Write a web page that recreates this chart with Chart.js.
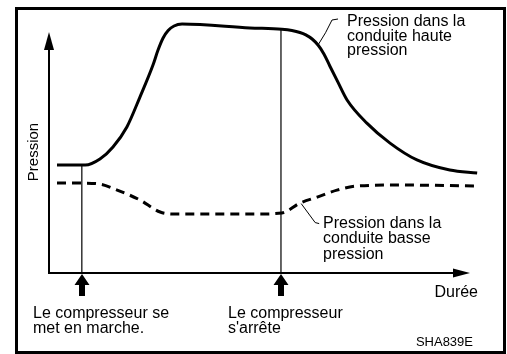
<!DOCTYPE html>
<html lang="fr">
<head>
<meta charset="utf-8">
<title>Pression dans les conduites</title>
<script src="https://cdn.jsdelivr.net/npm/chart.js@4.4.1/dist/chart.umd.min.js"></script>
<style>
  html, body { margin: 0; padding: 0; background: #fff; }
  #wrap { width: 507px; height: 354px; position: relative; }
</style>
</head>
<body>
<div id="wrap"><canvas id="c" width="507" height="354"></canvas></div>
<script>
// Temps (unités arbitraires) et pression (unités arbitraires)
const hauteX = [1.9, 8.6, 12.1, 15.2, 18.5, 21.6, 24.7, 25.9, 27.1, 28.3, 29.7, 31.6, 47.7, 55.3, 57.7, 59.6, 61.0, 62.5, 63.9, 65.3, 66.7, 68.6, 70.8, 75.5, 81.0, 87.4, 95.2, 101.7];
const hauteY = [44.8, 44.8, 47.3, 52.3, 60.6, 73.0, 86.3, 92.5, 97.5, 100.6, 102.5, 103.3, 101.7, 101.1, 100.6, 99.8, 98.8, 97.1, 94.6, 90.9, 85.9, 79.3, 71.8, 62.2, 53.9, 46.9, 42.7, 41.5];

const basseX = [1.9, 7.8, 12.1, 16.2, 21.6, 26.4, 29.5, 50.1, 55.3, 59.6, 63.7, 68.4, 73.2, 83.4, 101.2];
const basseY = [37.3, 37.3, 36.9, 34.4, 30.3, 25.3, 24.5, 24.5, 24.9, 29.0, 31.5, 34.4, 36.1, 36.5, 36.1];

// Démarrage et arrêt du compresseur : instant et pression haute à cet instant
const evenementX = [7.8, 55.1];
const evenementY = [44.8, 101.1];

const labelsHaute = ["Pression dans la", "conduite haute", "pression"];
const labelsBasse = ["Pression dans la", "conduite basse", "pression"];
const labelDemarrage = ["Le compresseur se", "met en marche."];
const labelArret = ["Le compresseur", "s'arrête"];
const titreX = "Durée";
const titreY = "Pression";
const reference = "SHA839E";

const FONT = '"Liberation Sans", Arial, Helvetica, sans-serif';

function pts(xs, ys) { return xs.map((x, i) => ({ x: x, y: ys[i] })); }

const datasets = [
  {
    data: pts(hauteX, hauteY),
    borderColor: '#000', borderWidth: 3,
    cubicInterpolationMode: 'monotone', pointRadius: 0, clip: false
  },
  {
    data: pts(basseX, basseY),
    borderColor: '#000', borderWidth: 3, borderDash: [9, 6],
    cubicInterpolationMode: 'monotone', pointRadius: 0, clip: false
  }
];
evenementX.forEach((x, i) => {
  datasets.push({
    data: [{ x: x, y: 0 }, { x: x, y: evenementY[i] }],
    borderColor: '#000', borderWidth: 1.2, pointRadius: 0, clip: false
  });
});

const decor = {
  id: 'decor',
  afterDatasetsDraw(chart) {
    const ctx = chart.ctx;
    const xs = chart.scales.x, ys = chart.scales.y;
    const px = v => xs.getPixelForValue(v);
    const py = v => ys.getPixelForValue(v);
    ctx.save();
    ctx.fillStyle = '#000';
    ctx.strokeStyle = '#000';

    // cadre
    ctx.lineWidth = 3;
    ctx.strokeRect(16.5, 8.5, 488, 344);

    // axes
    const x0 = px(0), y0 = py(0), xEnd = px(100), yEnd = py(100);
    ctx.lineWidth = 2;
    ctx.beginPath();
    ctx.moveTo(x0, yEnd + 10); ctx.lineTo(x0, y0);
    ctx.lineTo(xEnd - 10, y0);
    ctx.stroke();
    // pointe axe vertical
    ctx.beginPath();
    ctx.moveTo(x0, yEnd); ctx.lineTo(x0 - 5, yEnd + 18); ctx.lineTo(x0 + 5, yEnd + 18);
    ctx.closePath(); ctx.fill();
    // pointe axe horizontal
    ctx.beginPath();
    ctx.moveTo(xEnd, y0); ctx.lineTo(xEnd - 17, y0 - 4.5); ctx.lineTo(xEnd - 17, y0 + 4.5);
    ctx.closePath(); ctx.fill();

    // flèches des événements
    evenementX.forEach(v => {
      const ax = Math.round(px(v));
      const top = y0 + 1;
      ctx.beginPath();
      ctx.moveTo(ax, top);
      ctx.lineTo(ax - 7.5, top + 11);
      ctx.lineTo(ax - 3, top + 11);
      ctx.lineTo(ax - 3, top + 22);
      ctx.lineTo(ax + 3, top + 22);
      ctx.lineTo(ax + 3, top + 11);
      ctx.lineTo(ax + 7.5, top + 11);
      ctx.closePath(); ctx.fill();
    });

    // traits de rappel
    ctx.lineWidth = 1;
    const hx = 63.9, hy = 94.6;
    ctx.beginPath();
    ctx.moveTo(px(hx), py(hy));
    ctx.quadraticCurveTo(px(hx) + 8, py(hy) - 12, px(hx) + 14, py(hy) - 25);
    ctx.lineTo(px(hx) + 20, py(hy) - 26);
    ctx.stroke();
    const bx = 59.9, by = 28.8;
    ctx.beginPath();
    ctx.moveTo(px(bx), py(by));
    ctx.lineTo(px(bx) + 14, py(by) + 19);
    ctx.lineTo(px(bx) + 18, py(by) + 20);
    ctx.stroke();

    // textes
    ctx.font = '16px ' + FONT;
    ctx.textBaseline = 'alphabetic';
    ctx.textAlign = 'left';
    labelsHaute.forEach((t, i) => ctx.fillText(t, 347, 26 + i * 14.7));
    labelsBasse.forEach((t, i) => ctx.fillText(t, 323, 228 + i * 15.3));
    labelDemarrage.forEach((t, i) => ctx.fillText(t, 33, 318 + i * 15));
    labelArret.forEach((t, i) => ctx.fillText(t, 228, 318 + i * 15));
    ctx.textAlign = 'right';
    ctx.fillText(titreX, 478, 297);
    ctx.font = '13px ' + FONT;
    ctx.fillText(reference, 473, 346);

    ctx.save();
    ctx.translate(38, 152);
    ctx.rotate(-Math.PI / 2);
    ctx.textAlign = 'center';
    ctx.font = '15px ' + FONT;
    ctx.fillText(titreY, 0, 0);
    ctx.restore();

    ctx.restore();
  }
};

new Chart(document.getElementById('c'), {
  type: 'line',
  data: { datasets: datasets },
  options: {
    responsive: false,
    animation: false,
    events: [],
    layout: { padding: { left: 49, right: 37, top: 32, bottom: 81 } },
    plugins: { legend: { display: false }, tooltip: { enabled: false } },
    elements: { line: { borderCapStyle: 'butt' } },
    scales: {
      x: { type: 'linear', min: 0, max: 100, display: false },
      y: { type: 'linear', min: 0, max: 100, display: false }
    }
  },
  plugins: [decor]
});
</script>
</body>
</html>
